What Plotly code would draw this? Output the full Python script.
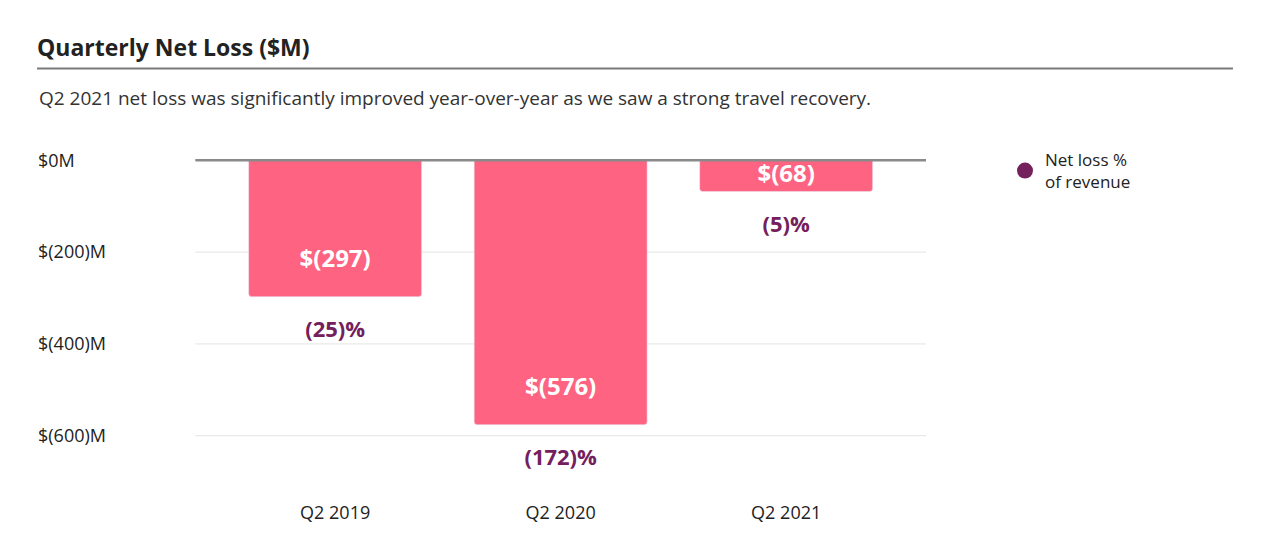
import plotly.graph_objects as go

quarters = ["Q2 2019", "Q2 2020", "Q2 2021"]
net_loss = [-297, -576, -68]
bar_labels = ["$(297)", "$(576)", "$(68)"]
pct_labels = ["(25)%", "(172)%", "(5)%"]
y_ticks = [0, -200, -400, -600]
y_ticktext = ["$0M", "$(200)M", "$(400)M", "$(600)M"]

FONT = "'Open Sans', Lato, sans-serif"
BAR_COLOR = "#FF6382"
PURPLE = "#74205C"

# label positions derived from the values
bar_label_y = [min(v + 78, v / 2) for v in net_loss]
pct_label_y = [v - 76 for v in net_loss]

fig = go.Figure()
fig.add_trace(go.Bar(
    x=quarters, y=net_loss, marker_color=BAR_COLOR, width=0.767,
    showlegend=False, hoverinfo="skip",
))
fig.add_trace(go.Scatter(
    x=quarters, y=bar_label_y, mode="text", text=bar_labels,
    textfont=dict(color="white", size=24, family=FONT, weight="bold"),
    showlegend=False, cliponaxis=False, hoverinfo="skip",
))
fig.add_trace(go.Scatter(
    x=quarters, y=pct_label_y, mode="text", text=pct_labels,
    textfont=dict(color=PURPLE, size=22, family=FONT, weight="bold"),
    showlegend=False, cliponaxis=False, hoverinfo="skip",
))
fig.add_trace(go.Scatter(
    x=[None], y=[None], mode="markers", name="Net loss %<br>of revenue",
    marker=dict(color=PURPLE, size=16, symbol="circle"),
    showlegend=True,
))

# gridlines
for t in y_ticks[1:]:
    fig.add_shape(type="line", xref="x", yref="y", x0=-0.62, x1=2.62, y0=t, y1=t,
                  line=dict(color="#E3E3E3", width=1), layer="below")
fig.add_shape(type="line", xref="x", yref="y", x0=-0.62, x1=2.62, y0=0, y1=0,
              line=dict(color="#8A8A8A", width=2.5), layer="above")
# title underline
fig.add_shape(type="line", xref="paper", yref="paper", x0=0, x1=1.3453, y0=1.205, y1=1.205,
              line=dict(color="#7A7A7A", width=2))

fig.add_annotation(
    text="Q2 2021 net loss was significantly improved year-over-year as we saw a strong travel recovery.",
    xref="paper", yref="paper", x=0, y=1.124, xanchor="left", yanchor="middle",
    showarrow=False, font=dict(size=19, color="#333333", family=FONT),
)

fig.update_layout(
    width=1268, height=558,
    margin=dict(l=29, r=350, t=133.6, b=65.6, autoexpand=False),
    paper_bgcolor="white", plot_bgcolor="white",
    font=dict(family=FONT, color="#222222"),
    barcornerradius=3,
    title=dict(text="<b>Quarterly Net Loss ($M)</b>", x=29 / 1268, xanchor="left",
               xref="container", yref="container", y=1 - 40 / 558, yanchor="middle",
               font=dict(size=23, color="#222222", family=FONT)),
    xaxis=dict(range=[-1.322, 2.62], showgrid=False, zeroline=False, showline=False,
               ticks="", tickfont=dict(size=18, color="#222222"), ticklabelstandoff=0),
    yaxis=dict(range=[-740, 40], tickvals=y_ticks, ticktext=y_ticktext,
               ticklabelposition="inside", ticklabelstandoff=-2,
               showgrid=False, zeroline=False, showline=False, ticks="",
               tickfont=dict(size=18, color="#222222")),
    legend=dict(xref="container", yref="container", x=997 / 1268, y=1 - 134 / 558,
                xanchor="left", yanchor="top", font=dict(size=17, color="#222222"),
                bgcolor="rgba(0,0,0,0)"),
    showlegend=True,
)

fig.write_html("out.html")
